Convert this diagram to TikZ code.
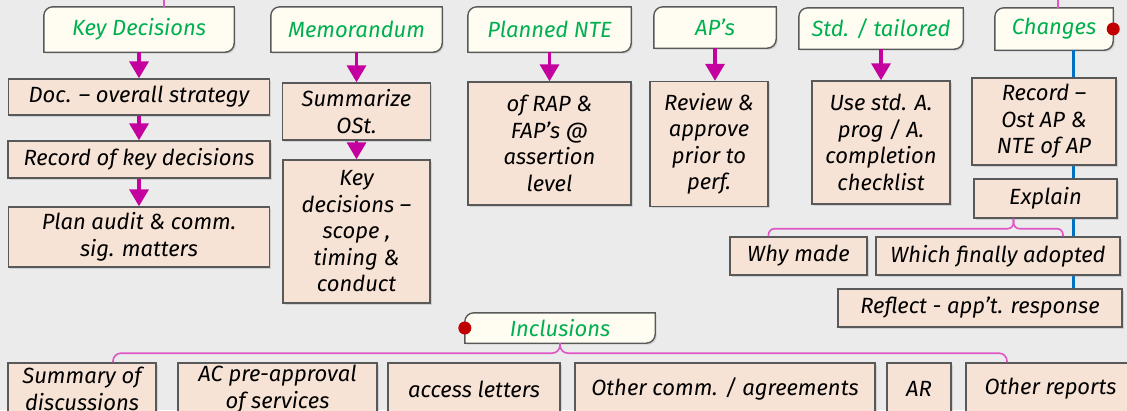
\documentclass[tikz,border=0pt]{standalone}
\usepackage{fontspec}
\setmainfont{Fira Sans}
\usetikzlibrary{arrows.meta, positioning, shadows}
\definecolor{bggrey}{HTML}{EBEBEB}
\definecolor{boxfill}{HTML}{F7E3D5}
\definecolor{boxline}{HTML}{595959}
\definecolor{headfill}{HTML}{FFFDF2}
\definecolor{headgreen}{HTML}{00B050}
\definecolor{flowpink}{HTML}{C4009F}
\definecolor{linkpink}{HTML}{E055C5}
\definecolor{trackblue}{HTML}{0070C0}
\definecolor{dotred}{HTML}{C00000}
\pgfdeclarelayer{bg}
\pgfsetlayers{bg,main}
\tikzstyle{box}=[draw=boxline, fill=boxfill, rectangle, line width=1.4pt,
  align=center, inner sep=2pt,
  drop shadow={shadow xshift=1.5pt, shadow yshift=-1.5pt, opacity=.25}]
\tikzstyle{head}=[rectangle, text=headgreen, inner sep=2pt]
\tikzstyle{headframe}=[draw=boxline, fill=headfill, line width=1.4pt,
  drop shadow={shadow xshift=1.5pt, shadow yshift=-1.5pt, opacity=.25}]
\tikzstyle{flow}=[draw=flowpink, line width=3.5pt, -{Triangle[width=19pt,length=17pt]}]
\tikzstyle{link}=[draw=linkpink, line width=1.6pt]
\tikzstyle{track}=[draw=trackblue, line width=3pt]
\tikzstyle{every node}=[font=\itshape\fontsize{22}{26.5}\selectfont]

\begin{document}
\begin{tikzpicture}[x=1pt, y=-1pt, >=latex]
    \useasboundingbox (0,0) rectangle (1127,410);
    % headers
    \node[head, minimum width=190pt, minimum height=45pt] (kd) at (139,29.5) {Key Decisions};
    \node[head, minimum width=171pt, minimum height=45pt] (memo) at (356.5,29.5) {Memorandum};
    \node[head, minimum width=163pt, minimum height=45pt] (nte) at (549.5,29.5) {Planned NTE};
    \node[head, minimum width=122pt, minimum height=41pt] (aps) at (715,27.5) {AP’s};
    \node[head, minimum width=164pt, minimum height=41pt] (std) at (881,28.5) {Std. / tailored};
    \node[head, minimum width=118pt, minimum height=42pt] (chg) at (1054,29) {Changes};
    \node[head, minimum width=190pt, minimum height=30pt] (incl) at (560,328) {Inclusions};
    % key decisions column
    \node[box, below of=kd, node distance=67.5pt, minimum width=261pt, minimum height=36pt] (doc) {Doc. – overall strategy};
    \node[box, below of=doc, node distance=62.5pt, minimum width=262pt, minimum height=37pt] (rec) {Record of key decisions};
    \node[box, below of=rec, node distance=77.5pt, minimum width=261pt, minimum height=60pt] (plan) {Plan audit \& comm.\\sig. matters};
    % memorandum column
    \node[box, below of=memo, node distance=82pt, minimum width=148pt, minimum height=57pt] (summ) {Summarize\\OSt.};
    \node[box, below of=summ, node distance=120pt, minimum width=147pt, minimum height=143pt] (keyd) {Key\\decisions –\\scope ,\\timing \&\\conduct};
    % NTE, AP's, std
    \node[box, below of=nte, node distance=114pt, minimum width=163pt, minimum height=123pt] (rap) {of RAP \&\\FAP’s @\\assertion\\level};
    \node[box, below of=aps, node distance=116.5pt, xshift=-6pt, minimum width=118pt, minimum height=125pt] (rev) {Review \&\\approve\\prior to\\perf.};
    \node[box, below of=std, node distance=114pt, minimum width=138pt, minimum height=123pt] (use) {Use std. A.\\prog / A.\\completion\\checklist};
    % changes
    \node[box, below of=chg, node distance=92.5pt, xshift=-10pt, minimum width=144pt, minimum height=87pt] (ost) {Record –\\Ost AP \&\\NTE of AP};
    \node[box, below of=ost, node distance=77pt, xshift=1.5pt, minimum width=143pt, minimum height=39pt] (expl) {Explain};
    \node[box, below of=expl, node distance=57.5pt, xshift=-47.5pt, minimum width=244pt, minimum height=38pt] (fin) {Which finally adopted};
    \node[box, left of=fin, node distance=199.5pt, minimum width=137pt, minimum height=38pt] (why) {Why made};
    \node[box, below of=fin, node distance=52pt, xshift=-18pt, minimum width=284pt, minimum height=38pt] (refl) {Reflect - app’t. response};
    % inclusions row
    \node[box, minimum width=148pt, minimum height=52pt] (s1) at (82,389) {Summary of\\discussions};
    \node[box, right of=s1, node distance=195.5pt, minimum width=199pt, minimum height=52pt] (s2) {AC pre-approval\\of services};
    \node[box, right of=s2, node distance=196.5pt, minimum width=172pt, minimum height=52pt] (s3) {access letters};
    \node[box, right of=s3, node distance=251pt, minimum width=300pt, minimum height=52pt] (s4) {Other comm. / agreements};
    \node[box, right of=s4, node distance=194pt, minimum width=64pt, minimum height=52pt] (s5) {AR};
    \node[box, right of=s5, node distance=131.5pt, minimum width=169pt, minimum height=52pt] (s6) {Other reports};

    \draw[flow] (kd) -- (doc);
    \draw[flow] (doc) -- (rec);
    \draw[flow] (rec) -- (plan);
    \draw[flow] (memo) -- (summ);
    \draw[flow] (summ) -- (keyd);
    \draw[flow] (nte) -- (rap);
    \draw[flow] (aps) -- (aps |- rev.north);
    \draw[flow] (std) -- (use);

    \coordinate (kdup) at (164,0);
    \coordinate (chgup) at (1058,0);
    \draw[link] (kdup) -- (kdup |- kd.north);
    \draw[link] (chgup) -- (chgup |- chg.north);
    \draw[link, rounded corners=6pt] ([xshift=-30pt]why.north) |- ([xshift=-32pt,yshift=-10pt]expl.south) -- ([xshift=-32pt]expl.south);
    \draw[link, rounded corners=6pt] ([xshift=65pt]fin.north) |- ([xshift=-32pt,yshift=-10pt]expl.south) -- ([xshift=-32pt]expl.south);
    \draw[link, rounded corners=8pt] ([xshift=31pt]s1.north) |- ([yshift=-10pt]incl.south) -- (incl.south);
    \draw[link, rounded corners=8pt] ([xshift=-43.5pt]s6.north) |- ([yshift=-10pt]incl.south) -- (incl.south);

    \fill[dotred] (chg.east) circle (6.5pt);
    \fill[dotred] (incl.west) circle (6.5pt);

    \begin{pgfonlayer}{bg}
        \fill[bggrey] (0,0) rectangle (1127,410);
        \foreach \h in {kd,memo,nte,aps,std,chg,incl}
            \draw[headframe] (\h.south west) -- ([yshift=-9pt]\h.north west)
              arc[start angle=180, end angle=90, radius=9pt] -- (\h.north east)
              -- ([yshift=9pt]\h.south east) arc[start angle=0, end angle=-90, radius=9pt] -- cycle;
        \coordinate (trk) at ([xshift=19pt]chg.south);
        \draw[track] (trk) -- (trk |- refl.north);
    \end{pgfonlayer}
\end{tikzpicture}
\end{document}
